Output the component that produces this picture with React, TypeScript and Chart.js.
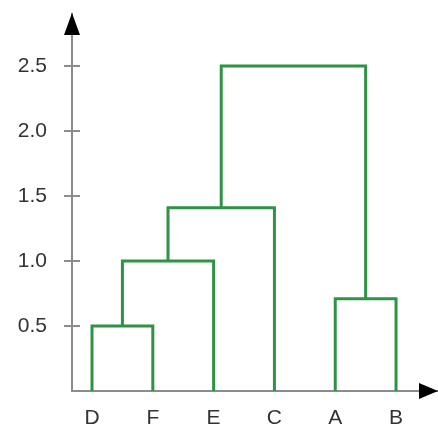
import React, { useEffect, useRef } from 'react';
import { Chart, registerables } from 'chart.js';

Chart.register(...registerables);

// Leaves of the dendrogram, left to right
const leafLabels = ['D', 'F', 'E', 'C', 'A', 'B'];
// Merges: left cluster, right cluster, merge height
const mergeLeft = ['D', 'DF', 'DFE', 'A', 'DFEC'];
const mergeRight = ['F', 'E', 'C', 'B', 'AB'];
const mergeHeight = [0.5, 1.0, 1.41, 0.71, 2.5];
// Y axis ticks
const yTickValues = [0.5, 1.0, 1.5, 2.0, 2.5];

const LINE = '#2f9245';
const AXIS = '#8c8c8c';
const TEXT = '#333333';
const FONT = 'Liberation Sans, Arial, sans-serif';

function buildSegments() {
  const pos: Record<string, { x: number; y: number }> = {};
  leafLabels.forEach((l, i) => (pos[l] = { x: i, y: 0 }));
  return mergeLeft.map((l, i) => {
    const r = mergeRight[i];
    const h = mergeHeight[i];
    const a = pos[l];
    const b = pos[r];
    pos[l + r] = { x: (a.x + b.x) / 2, y: h };
    return [
      { x: a.x, y: a.y },
      { x: a.x, y: h },
      { x: b.x, y: h },
      { x: b.x, y: b.y },
    ];
  });
}

const axisDecor = {
  id: 'axisDecor',
  afterDraw(chart: any) {
    const { ctx, chartArea, scales } = chart;
    const y = scales.y;
    ctx.save();
    ctx.strokeStyle = AXIS;
    ctx.lineWidth = 2;
    yTickValues.forEach((v) => {
      const py = Math.round(y.getPixelForValue(v));
      ctx.beginPath();
      ctx.moveTo(chartArea.left - 8, py);
      ctx.lineTo(chartArea.left + 8, py);
      ctx.stroke();
    });
    ctx.fillStyle = '#000';
    // Y arrow
    const lx = chartArea.left;
    ctx.beginPath();
    ctx.moveTo(lx, chartArea.top - 1);
    ctx.lineTo(lx - 8, chartArea.top + 21);
    ctx.lineTo(lx + 8, chartArea.top + 21);
    ctx.closePath();
    ctx.fill();
    // X arrow
    const by = chartArea.bottom;
    ctx.beginPath();
    ctx.moveTo(chartArea.right, by);
    ctx.lineTo(chartArea.right - 19, by - 8);
    ctx.lineTo(chartArea.right - 19, by + 8);
    ctx.closePath();
    ctx.fill();
    ctx.restore();
  },
};

export default function App() {
  const ref = useRef<HTMLCanvasElement | null>(null);
  useEffect(() => {
    if (!ref.current) return;
    const segments = buildSegments();
    const chart = new Chart(ref.current, {
      type: 'line',
      data: {
        datasets: segments.map((seg, i) => ({
          label: 'm' + i,
          data: seg,
          borderColor: LINE,
          borderWidth: 3,
          pointRadius: 0,
          tension: 0,
          fill: false,
          clip: false as any,
          borderJoinStyle: 'miter' as const,
          borderCapStyle: 'butt' as const,
        })),
      },
      options: {
        animation: false,
        responsive: false,
        parsing: false as any,
        layout: { padding: { top: 14, right: 0, left: 0, bottom: 0 } },
        plugins: { legend: { display: false }, tooltip: { enabled: false } },
        scales: {
          x: {
            type: 'linear',
            min: -0.329,
            max: 5.69,
            grid: { display: false, drawTicks: false },
            border: { display: true, color: AXIS, width: 2 },
            afterBuildTicks: (s: any) => {
              s.ticks = leafLabels.map((_, i) => ({ value: i }));
            },
            afterFit: (s: any) => {
              s.height = 39;
              s.paddingLeft = 0;
              s.paddingRight = 0;
            },
            ticks: {
              autoSkip: false,
              maxRotation: 0,
              padding: 15,
              color: TEXT,
              font: { family: FONT, size: 21 },
              callback: (v: any) => leafLabels[Math.round(Number(v))] ?? '',
            },
          },
          y: {
            type: 'linear',
            min: 0,
            max: 2.9,
            grid: { display: false, drawTicks: false },
            border: { display: true, color: AXIS, width: 2 },
            afterBuildTicks: (s: any) => {
              s.ticks = yTickValues.map((v) => ({ value: v }));
            },
            afterFit: (s: any) => {
              s.width = 72;
              s.paddingTop = 0;
              s.paddingBottom = 0;
            },
            ticks: {
              padding: 25,
              color: TEXT,
              font: { family: FONT, size: 21 },
              callback: (v: any) => Number(v).toFixed(1),
            },
          },
        },
      },
      plugins: [axisDecor],
    });
    return () => chart.destroy();
  }, []);
  return (
    <div style={{ position: 'fixed', left: 0, top: 0, width: 438, height: 430, background: '#fff' }}>
      <canvas ref={ref} width={438} height={430} style={{ display: 'block' }} />
    </div>
  );
}
